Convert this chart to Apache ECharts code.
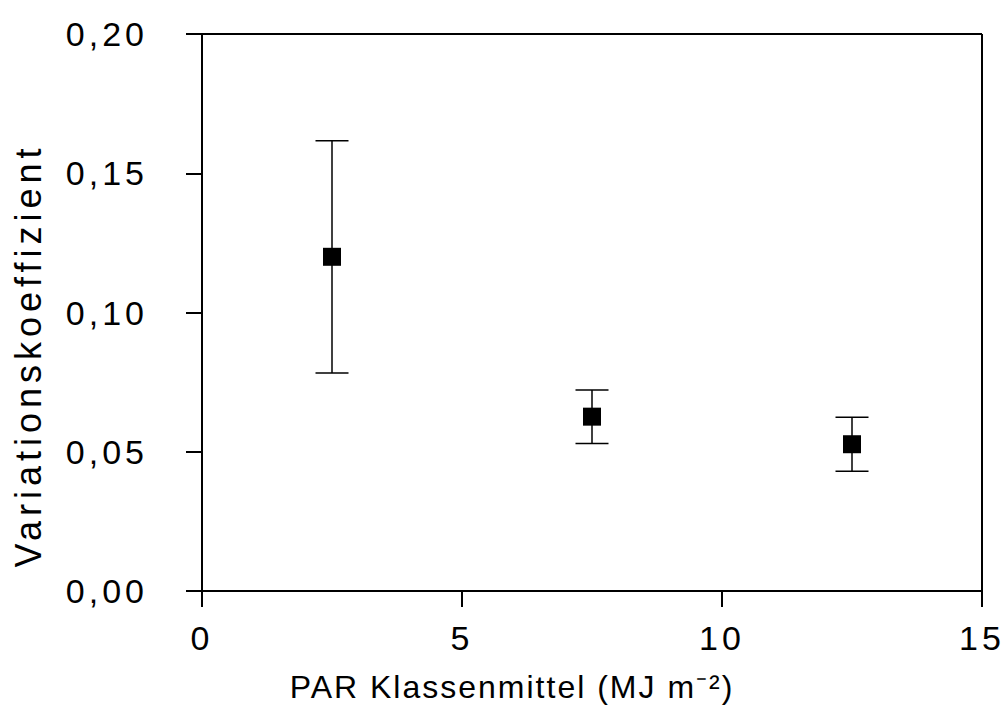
<!DOCTYPE html>
<html>
<head>
<meta charset="utf-8">
<script src="https://cdn.jsdelivr.net/npm/echarts@6/dist/echarts.min.js"></script>
<style>
  html, body { margin: 0; padding: 0; background: #fff; }
  #chart { width: 1006px; height: 711px; }
</style>
</head>
<body>
<div id="chart"></div>
<script>
// PAR class means (MJ m-2) and coefficient of variation with its spread
const classMeans = [2.5, 7.5, 12.5];
const cvValues = [0.120, 0.0626, 0.0527];
const cvErrors = [0.0417, 0.0096, 0.0097];

const xTicks = [0, 5, 10, 15];
const yTicks = [0, 0.05, 0.10, 0.15, 0.20];

const xTitle = 'PAR Klassenmittel (MJ m\u207B\u00B2)';
const yTitle = 'Variationskoeffizient';

const FONT = '"Liberation Sans", Arial, sans-serif';

const points = classMeans.map((x, i) => [x, cvValues[i]]);
const bars = classMeans.map((x, i) => [x, cvValues[i] - cvErrors[i], cvValues[i] + cvErrors[i]]);

const chart = echarts.init(document.getElementById('chart'), null, { renderer: 'svg' });

chart.setOption({
  animation: false,
  backgroundColor: '#ffffff',
  grid: { left: 202, top: 34, right: 24, bottom: 120, containLabel: false },
  xAxis: {
    type: 'value',
    min: xTicks[0], max: xTicks[xTicks.length - 1], interval: 5,
    name: xTitle,
    nameLocation: 'middle',
    nameGap: 80,
    nameTextStyle: { fontFamily: FONT, fontSize: 32, color: '#000', padding: [0, 160, 0, 0] },
    axisLine: { show: true, lineStyle: { color: '#000', width: 2 } },
    axisTick: { show: true, inside: false, length: 16, lineStyle: { color: '#000', width: 2 } },
    axisLabel: { fontFamily: FONT, fontSize: 34, color: '#000', margin: 30 },
    splitLine: { show: false }
  },
  yAxis: {
    type: 'value',
    min: yTicks[0], max: yTicks[yTicks.length - 1], interval: 0.05,
    name: yTitle,
    nameLocation: 'middle',
    nameGap: 156,
    nameTextStyle: { fontFamily: FONT, fontSize: 36, color: '#000', padding: [0, 86, 0, 0] },
    axisLine: { show: true, lineStyle: { color: '#000', width: 2 } },
    axisTick: { show: true, inside: false, length: 16, lineStyle: { color: '#000', width: 2 } },
    axisLabel: {
      fontFamily: FONT, fontSize: 34, color: '#000', margin: 54,
      formatter: v => v.toFixed(2).replace('.', ',')
    },
    splitLine: { show: false }
  },
  series: [
    {
      // frame: top and right border
      type: 'line',
      data: [],
      markLine: {
        silent: true, symbol: 'none', animation: false,
        lineStyle: { color: '#000', width: 2, type: 'solid' },
        label: { show: false },
        data: [
          { yAxis: yTicks[yTicks.length - 1] },
          { xAxis: xTicks[xTicks.length - 1] }
        ]
      }
    },
    {
      type: 'custom',
      data: bars,
      renderItem: function (params, api) {
        const x = api.value(0);
        const lo = api.coord([x, api.value(1)]);
        const hi = api.coord([x, api.value(2)]);
        const half = 16.5;
        const style = { stroke: '#000', lineWidth: 1.5 };
        return {
          type: 'group',
          children: [
            { type: 'line', shape: { x1: lo[0], y1: lo[1], x2: hi[0], y2: hi[1] }, style },
            { type: 'line', shape: { x1: lo[0] - half, y1: lo[1], x2: lo[0] + half, y2: lo[1] }, style },
            { type: 'line', shape: { x1: hi[0] - half, y1: hi[1], x2: hi[0] + half, y2: hi[1] }, style }
          ]
        };
      },
      z: 2
    },
    {
      type: 'scatter',
      data: points,
      symbol: 'rect',
      symbolSize: 18,
      itemStyle: { color: '#000', opacity: 1 },
      z: 3
    }
  ]
});

// widen the tracking of the axis text
function applyTracking() {
  document.querySelectorAll('#chart svg text').forEach(function (t) {
    const s = t.textContent || '';
    let ls = 4;
    if (s === xTitle) ls = 2;
    else if (s === yTitle) ls = 5;
    t.style.letterSpacing = ls + 'px';
  });
}
applyTracking();
chart.on('finished', applyTracking);
</script>
</body>
</html>
